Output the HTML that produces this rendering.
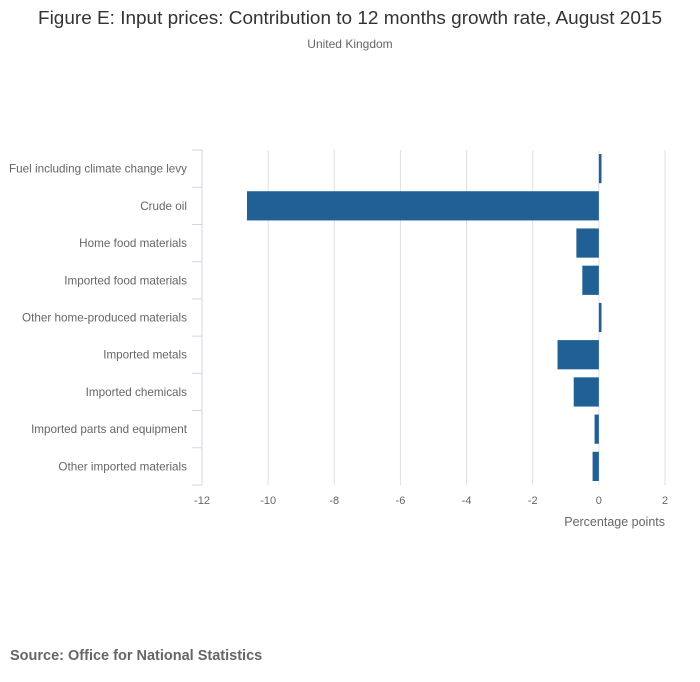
<!DOCTYPE html>
<html><head><meta charset="utf-8"><style>
body{margin:0;background:#fff;font-family:"Liberation Sans",sans-serif;}
svg{display:block}
</style></head><body>
<svg id="chart" width="700" height="682">
<text x="350" y="24" text-anchor="middle" font-size="18" textLength="624" lengthAdjust="spacingAndGlyphs" fill="#333">Figure E: Input prices: Contribution to 12 months growth rate, August 2015</text>
<text x="350" y="48" text-anchor="middle" font-size="12" fill="#666">United Kingdom</text>
<g id="grid"></g><g id="bars"></g><g id="labels"></g>
<text x="665" y="526" text-anchor="end" font-size="12.5" fill="#666">Percentage points</text>
<text x="10" y="660" font-size="14.5" font-weight="bold" fill="#666">Source: Office for National Statistics</text>
</svg>
<script>
const categories=["Fuel including climate change levy","Crude oil","Home food materials","Imported food materials","Other home-produced materials","Imported metals","Imported chemicals","Imported parts and equipment","Other imported materials"];
const values=[0.08,-10.64,-0.68,-0.5,0.08,-1.25,-0.76,-0.13,-0.19];
const ticks=[-12,-10,-8,-6,-4,-2,0,2];
const NS="http://www.w3.org/2000/svg";
const L=202,R=665,T=150,B=485;
const x=v=>L+(v+12)/14*(R-L);
const band=(B-T)/categories.length;
const y=i=>T+i*band;
function mk(tag,attrs,parent){const e=document.createElementNS(NS,tag);for(const k in attrs)e.setAttribute(k,attrs[k]);document.getElementById(parent).appendChild(e);return e;}
ticks.forEach(t=>{
 if(t!==-12){const g=mk('line',{x1:x(t),x2:x(t),y1:T,y2:B,stroke:'#e0e0e0','stroke-width':1},'grid');
 
 }
 const tx=mk('text',{x:x(t),y:504,'text-anchor':'middle','font-size':11,fill:'#666'},'labels');
 tx.textContent=t;
 
 
});
const ax=mk('line',{x1:L,x2:L,y1:T,y2:B,stroke:'#ccd6eb'},'grid');


for(let i=0;i<=categories.length;i++){
 const tk=mk('line',{x1:L-10,x2:L,y1:y(i),y2:y(i),stroke:'#ccd6eb'},'grid');
 
 
}
categories.forEach((c,i)=>{
 const v=values[i];
 const x0=Math.min(x(0),x(v)),w=Math.abs(x(v)-x(0));
 const r=mk('rect',{x:x0,y:y(i)+4,width:Math.max(w,1),height:band-8,fill:'#206095'},'bars');
 
 
 const t=mk('text',{x:187,y:y(i)+band/2+4,'text-anchor':'end','font-size':11.7,fill:'#666'},'labels');
 t.textContent=c;
 
 
});
</script>
</body></html>
